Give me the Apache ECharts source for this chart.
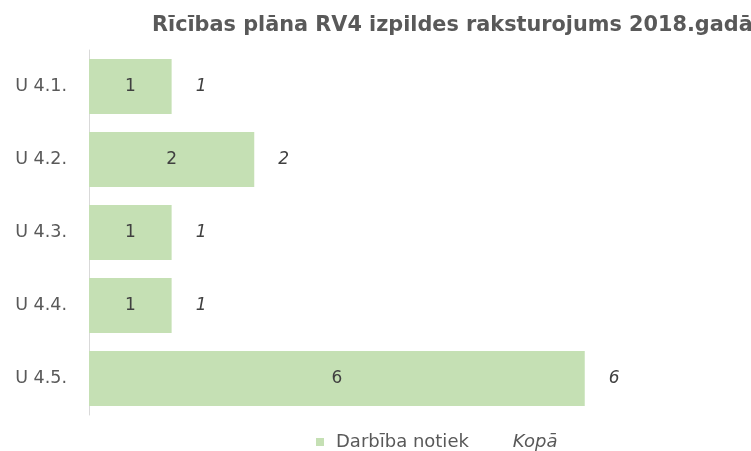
<!DOCTYPE html>
<html><head><meta charset="utf-8">
<script src="https://cdn.jsdelivr.net/npm/echarts@6/dist/echarts.min.js"></script>
<style>html,body{margin:0;padding:0;background:#fff}#c{width:751px;height:451px}</style>
</head><body><div id="c"></div>
<script>
const categories = ["U 4.1.", "U 4.2.", "U 4.3.", "U 4.4.", "U 4.5."];
const darbibaNotiek = [1, 2, 1, 1, 6];
const kopa = [1, 2, 1, 1, 6];
const titleText = "Rīcības plāna RV4 izpildes raksturojums 2018.gadā";
const FONT = "'DejaVu Sans', sans-serif";
const chart = echarts.init(document.getElementById('c'));
chart.setOption({
  animation: false,
  textStyle: { fontFamily: FONT },
  title: { text: titleText, left: 147, top: 10,
    textStyle: { fontFamily: FONT, fontSize: 20.8, fontWeight: 'bold', color: '#595959' } },
  grid: { left: 89, top: 50, width: 661, height: 365, containLabel: false },
  xAxis: { type: 'value', min: 0, max: 8, show: false },
  yAxis: { type: 'category', data: categories, inverse: true,
    axisLine: { lineStyle: { color: '#d9d9d9', width: 1 } },
    axisTick: { show: false },
    axisLabel: { color: '#595959', fontSize: 17.5, margin: 22, fontFamily: FONT } },
  legend: { left: 311, top: 428, itemWidth: 8, itemHeight: 8, itemGap: 24,
    textStyle: { color: '#595959', fontSize: 18, fontFamily: FONT, padding: [0,0,0,7] },
    data: [ { name: 'Darbība notiek', icon: 'rect' },
            { name: 'Kopā', icon: 'rect', textStyle: { fontStyle: 'italic' } } ] },
  series: [
    { name: 'Darbība notiek', type: 'bar', data: darbibaNotiek, barWidth: 55,
      itemStyle: { color: '#c5e0b4' },
      label: { show: true, position: 'inside', color: '#404040', fontSize: 17, fontFamily: FONT } },
    { name: 'Kopā', type: 'bar', data: kopa, barWidth: 55, barGap: '-100%',
      itemStyle: { color: 'rgba(0,0,0,0)' },
      label: { show: true, position: 'right', distance: 24, color: '#404040', fontSize: 17,
        fontStyle: 'italic', fontFamily: FONT } }
  ]
});
</script></body></html>
